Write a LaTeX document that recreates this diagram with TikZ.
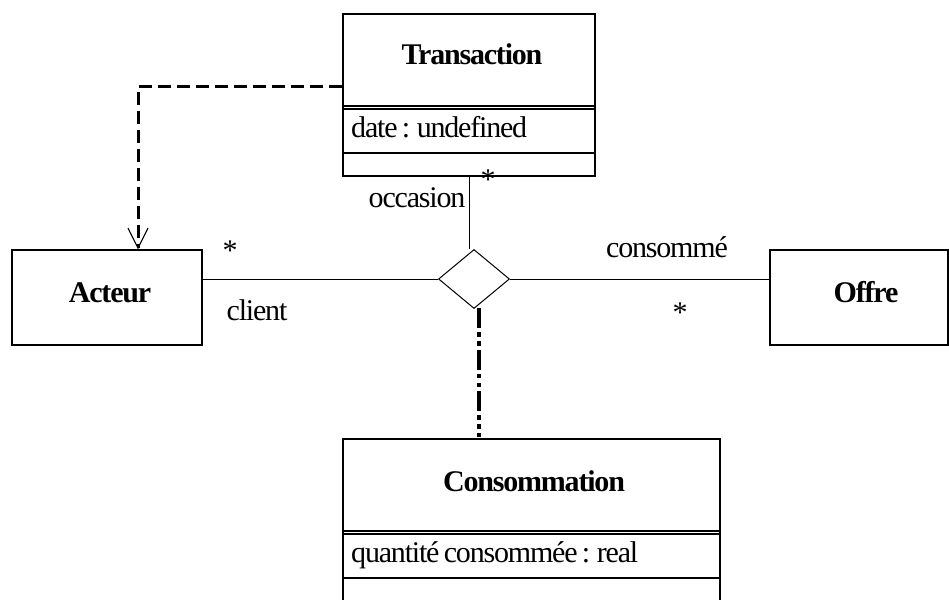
\documentclass[tikz,border=0pt]{standalone}
\usepackage{fontspec}
\setmainfont{Liberation Serif}[LetterSpace=-4, WordSpace=0.7]
\usetikzlibrary{shapes.geometric,arrows.meta}
\begin{document}
\begin{tikzpicture}[x=1pt,y=-1pt,
  every node/.style={font=\fontsize{30}{34}\selectfont, inner sep=0pt},
  classbox/.style={draw, line width=1.3pt, rectangle},
  assoc/.style={line width=1pt},
  sepline/.style={line width=1.1pt},
  depend/.style={line width=3pt, dash pattern=on 13pt off 6pt,
    -{Straight Barb[length=20pt,width=20pt,line width=1.1pt]}},
  linkline/.style={line width=3.4pt,
    dash pattern=on 20pt off 4pt on 4.5pt off 4.5pt on 4.5pt off 4pt},
  title/.style={font=\fontsize{30}{34}\selectfont\bfseries, anchor=base},
  attr/.style={anchor=base west},
  role/.style={anchor=base}]
\useasboundingbox (0,0) rectangle (949,599);
\clip (0,0) rectangle (949,599);

% Transaction class
\node[classbox, minimum width=252pt, minimum height=162pt] (trans) at (469,95) {};
\node[title] (transT) at (472,65) {Transaction};
\draw[sepline] (343,106) -- (595,106);
\draw[sepline] (343,109) -- (595,109);
\draw[sepline] (343,153) -- (595,153);
\node[attr] (transA) at (351,137) {date : undefined};

% Acteur and Offre classes
\node[classbox, minimum width=190pt, minimum height=95pt] (acteur) at (107,297.5) {};
\node[title] (acteurT) at (110,302) {Acteur};
\node[classbox, minimum width=178pt, minimum height=95pt] (offre) at (859,297.5) {};
\node[title] (offreT) at (866,302) {Offre};

% Consommation association class (continues below the frame)
\node[classbox, minimum width=377pt, minimum height=181pt] (cons) at (531.5,529.5) {};
\node[title] (consT) at (534,491) {Consommation};
\draw[sepline] (343,531) -- (720,531);
\draw[sepline] (343,534) -- (720,534);
\draw[sepline] (343,578) -- (720,578);
\node[attr] (consA) at (351,562) {quantité consommée : real};

% n-ary association diamond
\node[draw, diamond, line width=1pt, minimum width=71pt, minimum height=59pt] (diam) at (474,279) {};

% association branches
\draw[assoc] (diam.west) -- (diam.west -| acteur.east);
\draw[assoc] (diam.east) -- (diam.east -| offre.west);
\draw[assoc] (trans.south) -- (trans.south |- diam.north);
\draw[linkline] ([xshift=5pt,yshift=1pt]diam.south) -- ([xshift=5pt,yshift=1pt]diam.south |- cons.north);

% dependency Transaction -> Acteur
\draw[depend] ([yshift=8pt]trans.west) -| ([xshift=31pt]acteur.north);

% roles and multiplicities
\node[role] (occ) at (417,207) {occasion};
\node[role] (mTrans) at (488,189) {*};
\node[role] (mAct) at (230,260) {*};
\node[role] (cli) at (257,320) {client};
\node[role] (cmm) at (667,257) {consommé};
\node[role] (mOff) at (680,322) {*};
\end{tikzpicture}
\end{document}
